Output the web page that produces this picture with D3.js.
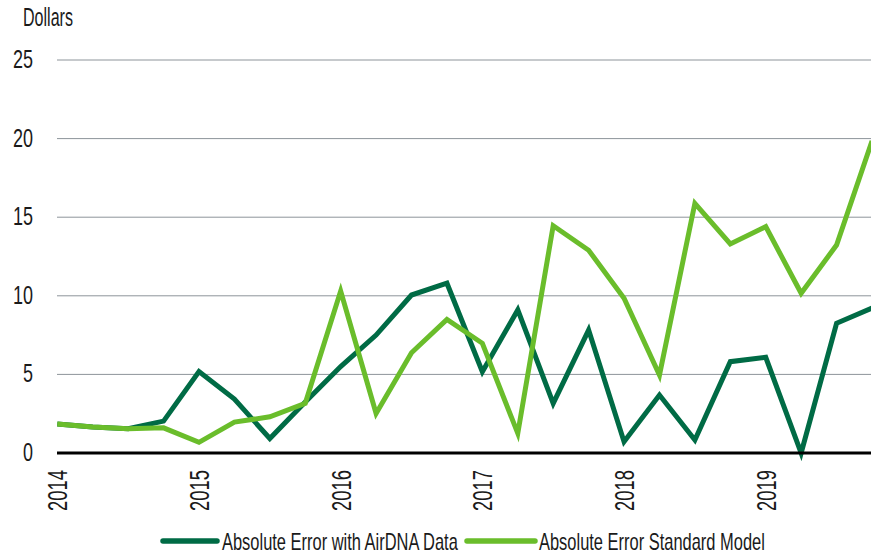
<!DOCTYPE html>
<html><head><meta charset="utf-8">
<script src="https://cdn.jsdelivr.net/npm/d3@7"></script>
<style>body{margin:0;background:#fff}svg{display:block}text{font-family:"Liberation Sans Narrow","Liberation Sans",Arial,sans-serif;fill:#1a1a1a}</style>
</head><body><svg id="c" width="871" height="555"></svg>
<script>
const quarters = ["2014Q1","2014Q2","2014Q3","2014Q4","2015Q1","2015Q2","2015Q3","2015Q4","2016Q1","2016Q2","2016Q3","2016Q4","2017Q1","2017Q2","2017Q3","2017Q4","2018Q1","2018Q2","2018Q3","2018Q4","2019Q1","2019Q2","2019Q3","2019Q4"];
const airdna = [1.85,1.65,1.55,2.03,5.18,3.43,0.92,3.25,5.5,7.5,10.05,10.8,5.17,9.1,3.16,7.82,0.72,3.69,0.83,5.81,6.09,0.0,8.25,9.22];
const standard = [1.85,1.65,1.55,1.6,0.68,1.97,2.3,3.16,10.3,2.52,6.38,8.5,6.98,1.25,14.46,12.9,9.84,4.96,15.88,13.3,14.4,10.16,13.23,19.85];
const yTicks = [0,5,10,15,20,25];
const yearLabels = ["2014","2015","2016","2017","2018","2019"];
const seriesNames = ["Absolute Error with AirDNA Data","Absolute Error Standard Model"];
const colors = ["#006b45","#6abd2b"];

const svg = d3.select("#c");
const x = d3.scaleLinear().domain([0, quarters.length-1]).range([57.3, 872]);
const y = d3.scaleLinear().domain([0,25]).range([453,60]);

// place text at (px,py) with anchor, squeezed horizontally to width w, optional rotation
function fitText(g, str, px, py, w, size, anchor, rot){
  const t = g.append("text").attr("font-size",size).text(str);
  const nat = t.node().getComputedTextLength();
  const sx = w / nat;
  const ax = anchor==="end" ? -nat : 0;
  t.attr("x",ax);
  t.attr("transform",`translate(${px},${py})${rot?` rotate(${rot})`:""} scale(${sx},1)`);
  return t;
}

// grid
svg.append("g").selectAll("line").data(yTicks.filter(d=>d>0)).join("line")
  .attr("x1",57).attr("x2",871).attr("y1",d=>y(d)).attr("y2",d=>y(d))
  .attr("stroke","#8d949a").attr("stroke-width",1);
// y labels
const gy = svg.append("g");
yTicks.forEach(d=>fitText(gy, String(d), 33, y(d)+8, String(d).length*10, 26, "end"));
fitText(svg, "Dollars", 23, 26, 50, 26, "start");

// lines
const line = d3.line().x((d,i)=>x(i)).y(d=>y(d));
[airdna, standard].forEach((s,k)=>{
  svg.append("path").datum(s).attr("d",line).attr("fill","none")
    .attr("stroke",colors[k]).attr("stroke-width",5).attr("stroke-linejoin","miter");
});
// zero axis
svg.append("line").attr("x1",57).attr("x2",871).attr("y1",y(0)).attr("y2",y(0))
  .attr("stroke","#000").attr("stroke-width",3);

// x labels (rotated)
const gx = svg.append("g");
yearLabels.forEach((d,i)=>{
  const t = gx.append("text").attr("font-size",27).attr("text-anchor","end").text(d);
  const nat = t.node().getComputedTextLength();
  t.attr("transform",`translate(${x(i*4)+10},470) rotate(-90) scale(${41/nat},1)`);
});

// legend
const leg = [{x1:163,x2:217,tx:222,w:236},{x1:467,x2:535,tx:539,w:226}];
leg.forEach((l,k)=>{
  svg.append("line").attr("x1",l.x1).attr("x2",l.x2).attr("y1",541).attr("y2",541)
    .attr("stroke",colors[k]).attr("stroke-width",5.5).attr("stroke-linecap","round");
  fitText(svg, seriesNames[k], l.tx, 550, l.w, 23, "start");
});
</script></body></html>
